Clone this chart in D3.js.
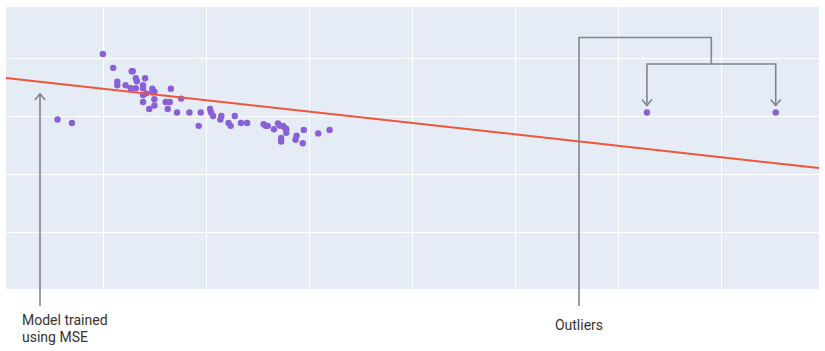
<!DOCTYPE html>
<html>
<head>
<meta charset="utf-8">
<script src="https://cdn.jsdelivr.net/npm/d3@7"></script>
<style>
  html, body { margin: 0; padding: 0; background: #fff; }
  svg { display: block; font-family: Roboto, "Noto Sans", sans-serif; }
</style>
</head>
<body>
<svg id="chart" width="825" height="351"></svg>
<script>
// ---- data ----
const pointX = [0.56,0.70,1.00,1.10,1.28,1.29,1.14,1.14,1.22,1.32,1.33,1.41,1.27,1.32,1.39,1.39,1.48,1.50,1.48,1.66,
  1.39,1.42,1.50,1.39,1.50,1.45,1.61,1.65,1.63,1.76,1.72,1.84,1.95,1.93,2.04,2.05,2.07,2.15,2.14,2.22,
  2.24,2.28,2.34,2.40,2.56,2.58,2.60,2.66,2.70,2.72,2.75,2.77,2.78,2.78,2.73,2.73,2.88,2.87,2.94,2.95,
  3.09,3.20,6.28,7.53];
const pointY = [2.94,2.88,4.07,3.83,3.77,3.77,3.59,3.53,3.53,3.65,3.60,3.65,3.48,3.48,3.53,3.48,3.47,3.42,3.41,3.47,
  3.36,3.39,3.29,3.24,3.18,3.12,3.24,3.24,3.12,3.30,3.06,3.06,3.06,2.83,3.12,3.06,3.00,3.00,2.94,2.88,
  2.83,3.00,2.88,2.88,2.86,2.83,2.83,2.77,2.87,2.83,2.83,2.79,2.77,2.71,2.62,2.56,2.66,2.59,2.53,2.76,
  2.70,2.76,3.06,3.06];
const lineX = [0.06, 7.95];
const lineY = [3.655, 2.103];
const xTicks = [1, 2, 3, 4, 5, 6, 7];
const yTicks = [1, 2, 3, 4];
const outlierIdx = [62, 63];
const modelArrowX = 0.39;
const labels = { model: ["Model trained", "using MSE"], outliers: "Outliers" };

// ---- layout ----
const svg = d3.select("#chart");
const plot = { left: 6, top: 7, right: 819, bottom: 289 };
const x = d3.scaleLinear().domain([0.06, 7.95]).range([plot.left, plot.right]);
const y = d3.scaleLinear().domain([0.017, 4.879]).range([plot.bottom, plot.top]);

svg.append("rect")
  .attr("x", plot.left).attr("y", plot.top)
  .attr("width", plot.right - plot.left).attr("height", plot.bottom - plot.top)
  .attr("fill", "#E5ECF6");

const grid = svg.append("g").attr("stroke", "#fff").attr("stroke-width", 1);
grid.selectAll("line.v").data(xTicks).join("line")
  .attr("x1", d => Math.round(x(d)) + 0.5).attr("x2", d => Math.round(x(d)) + 0.5)
  .attr("y1", plot.top).attr("y2", plot.bottom);
grid.selectAll("line.h").data(yTicks).join("line")
  .attr("y1", d => Math.round(y(d)) + 0.5).attr("y2", d => Math.round(y(d)) + 0.5)
  .attr("x1", plot.left).attr("x2", plot.right);

// points
const pts = pointX.map((d, i) => ({ x: d, y: pointY[i] }));
svg.append("g").selectAll("circle").data(pts).join("circle")
  .attr("cx", d => x(d.x)).attr("cy", d => y(d.y)).attr("r", 3.2)
  .attr("fill", "#8a60d6");

// regression line
svg.append("path")
  .datum(lineX.map((d, i) => [d, lineY[i]]))
  .attr("d", d3.line().x(d => x(d[0])).y(d => y(d[1])))
  .attr("fill", "none").attr("stroke", "#EF553B").attr("stroke-width", 2);

// annotations
const ann = svg.append("g").attr("stroke", "#80868b").attr("stroke-width", 1.6).attr("fill", "none");
function arrowUp(px, tipY) {
  ann.append("path").attr("d", `M${px - 5},${tipY + 6} L${px},${tipY} L${px + 5},${tipY + 6}`);
}
function arrowDown(px, tipY) {
  ann.append("path").attr("d", `M${px - 5},${tipY - 6} L${px},${tipY} L${px + 5},${tipY - 6}`);
}
const lineAt = v => lineY[0] + (lineY[1] - lineY[0]) * (v - lineX[0]) / (lineX[1] - lineX[0]);
const mX = x(modelArrowX);
const mTip = y(lineAt(modelArrowX)) + 12;
ann.append("line").attr("x1", mX).attr("x2", mX).attr("y1", mTip).attr("y2", 306);
arrowUp(mX, mTip);

const o1 = pts[outlierIdx[0]], o2 = pts[outlierIdx[1]];
const ox1 = x(o1.x), ox2 = x(o2.x), omid = (ox1 + ox2) / 2;
const bracketLeft = 579, topY = 37.5, midY = 64;
ann.append("path").attr("d", `M${bracketLeft},306 V${topY} H${omid} V${midY}`);
ann.append("path").attr("d", `M${ox1},${y(o1.y) - 7} V${midY} H${ox2} V${y(o2.y) - 7}`);
arrowDown(ox1, y(o1.y) - 7);
arrowDown(ox2, y(o2.y) - 7);

const txt = svg.append("g").attr("fill", "#333").attr("font-size", 14);
txt.append("text").attr("x", 22).attr("y", 325).text(labels.model[0]);
txt.append("text").attr("x", 22).attr("y", 341.5).text(labels.model[1]);
txt.append("text").attr("x", bracketLeft).attr("y", 329.5).attr("text-anchor", "middle").text(labels.outliers);
</script>
</body>
</html>
